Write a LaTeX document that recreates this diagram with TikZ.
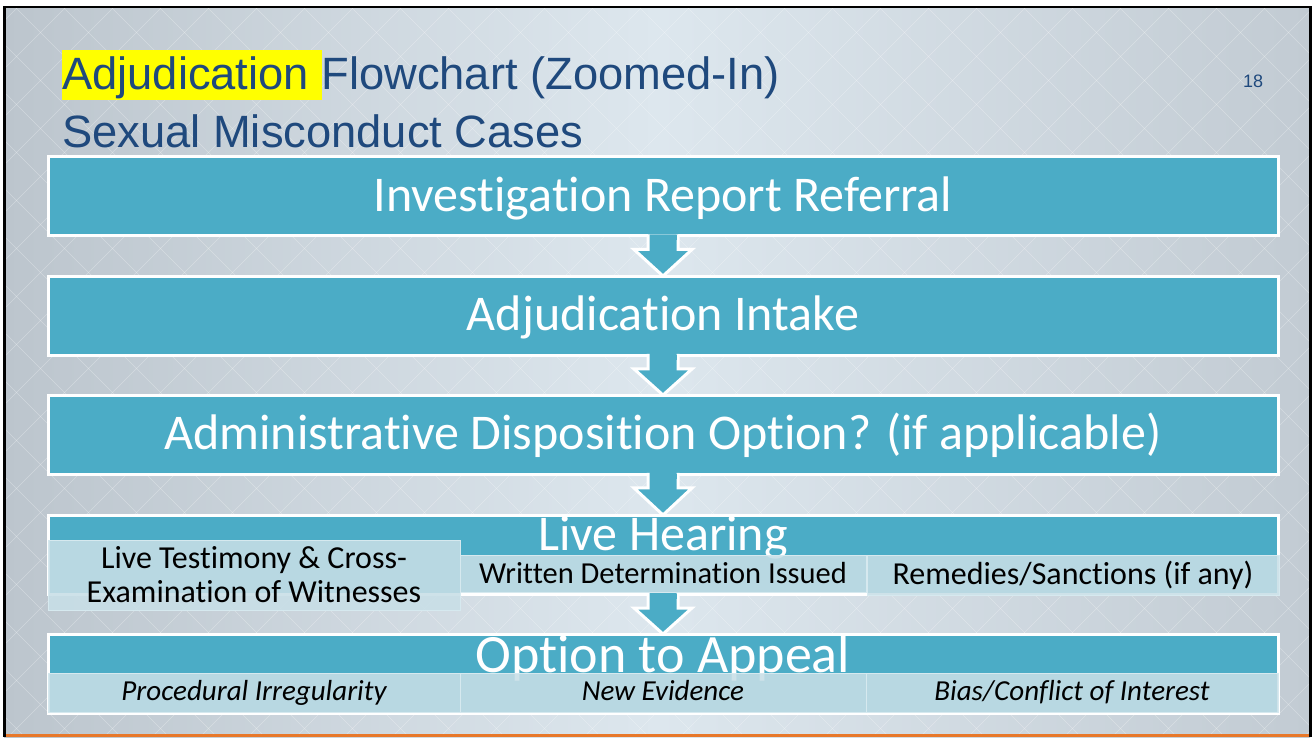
\documentclass[tikz,border=0pt]{standalone}
\usepackage{fontspec}
\setmainfont[RawFeature={-liga;-clig;-calt;-dlig}]{Carlito}
\newfontfamily\arialf{Liberation Sans}
\usetikzlibrary{calc}
\definecolor{boxteal}{HTML}{4BACC6}
\definecolor{subfill}{HTML}{C8DFE7}
\definecolor{subedge}{HTML}{D6E9EF}
\definecolor{titleblue}{HTML}{1F497D}
\definecolor{bgL}{HTML}{BCC5CD}
\definecolor{bgM}{HTML}{DDE7EE}
\definecolor{bgR}{HTML}{C2CBD3}
\definecolor{orangeline}{HTML}{E8782A}
\definecolor{hiyellow}{HTML}{FFFF00}
\newcommand\blockarrow[2]{%
  \path let \p1=(#1.south), \p2=(#2.north) in
    [flow] (\x1-15pt,\y1+3pt) -- (\x1-15pt,\y1-12pt) -- (\x1-29pt,\y1-12pt)
      -- (\x1,\y2-1pt) -- (\x1+29pt,\y1-12pt) -- (\x1+15pt,\y1-12pt) -- (\x1+15pt,\y1+3pt);
  \path let \p1=(#1.south) in
    [fill=boxteal] (\x1-13.5pt,\y1+2pt) rectangle (\x1+13.5pt,\y1-3pt);}
\begin{document}
\begin{tikzpicture}[x=1pt,y=1pt,
  mainbox/.style={draw=white, line width=3pt, fill=boxteal, minimum width=1230pt,
    minimum height=79pt, inner sep=0pt, text=white, text height=36pt, text depth=6pt,
    font=\fontsize{50}{50}\selectfont},
  bigtext/.style={text=white, inner sep=0pt, font=\fontsize{50}{50}\selectfont},
  subbox/.style={fill=subfill, fill opacity=0.88, text opacity=1, draw=subedge,
    line width=0.8pt, inner sep=0pt, text=black, align=center,
    font=\fontsize{32}{34}\selectfont},
  itsub/.style={subbox, text height=21pt, text depth=6pt, font=\itshape\fontsize{29}{34}\selectfont},
  flow/.style={fill=boxteal, draw=white, line width=3pt, line join=miter},
  lattice/.style={white, opacity=0.3, line width=0.6pt}]
\useasboundingbox (0,0) rectangle (1312,737);
\fill[white] (0,0) rectangle (1312,737);
\shade[left color=bgL, right color=bgR, middle color=bgM] (4,0) rectangle (1310,730);
\begin{scope}
  \clip (4,3) rectangle (1310,730);
  \foreach \i in {-760,-712,...,1350} {
    \draw[lattice] (\i,0) -- ++(737,737);
    \draw[lattice] (\i,737) -- ++(737,-737);
  }
\end{scope}
\fill[black] (3,0) rectangle (5.5,731);
\fill[black] (3,728.5) rectangle (1312,731);
\fill[black] (1309,0) rectangle (1312,731);
\fill[orangeline] (5.5,0) rectangle (1309,3);
% title
\fill[hiyellow] (62,637) rectangle (322,687);
\node[anchor=base west, inner sep=0pt, text=titleblue, font=\arialf\fontsize{45.3}{50}\selectfont] (title) at (62,647) {Adjudication Flowchart (Zoomed-In)};
\node[anchor=base west, inner sep=0pt, text=titleblue, font=\arialf\fontsize{45.3}{50}\selectfont] (subtitle) at (62,589) {Sexual Misconduct Cases};
\node[anchor=base, inner sep=0pt, text=titleblue, font=\arialf\fontsize{18}{20}\selectfont] (pnum) at (1253,649) {18};
% main boxes
\node[mainbox] (b1) at (663,540.5) {Investigation Report Referral};
\node[mainbox] (b2) at (663,421) {Adjudication Intake};
\node[mainbox] (b3) at (663,302) {Administrative Disposition Option? (if applicable)};
\node[mainbox] (b4) at (663,182) {};
\node[mainbox] (b5) at (663,63) {};
\blockarrow{b1}{b2}
\blockarrow{b2}{b3}
\blockarrow{b3}{b4}
\blockarrow{b4}{b5}
\node[bigtext, anchor=base] (lh) at (663,186) {Live Hearing};
\node[bigtext, anchor=base, font=\fontsize{54}{54}\selectfont] (ota) at (663,65) {Option to Appeal};
% sub boxes
\node[subbox, minimum width=412pt, minimum height=70pt, font=\fontsize{32}{34}\selectfont] (s41) at (254,162) {Live Testimony \& Cross-\\Examination of Witnesses};
\node[subbox, minimum width=406pt, minimum height=37pt, text height=24pt, text depth=4pt, font=\fontsize{30.5}{34}\selectfont] (s42) at (663,163.5) {Written Determination Issued};
\node[subbox, minimum width=412pt, minimum height=40pt, text height=24pt, text depth=5pt, font=\fontsize{32}{34}\selectfont] (s43) at (1073,162) {Remedies/Sanctions (if any)};
\node[itsub, minimum width=412pt, minimum height=39pt] (s51) at (254,44.5) {Procedural Irregularity};
\node[itsub, minimum width=406pt, minimum height=39pt] (s52) at (663,44.5) {New Evidence};
\node[itsub, minimum width=412pt, minimum height=39pt] (s53) at (1072,44.5) {Bias/Conflict of Interest};
\end{tikzpicture}
\end{document}
